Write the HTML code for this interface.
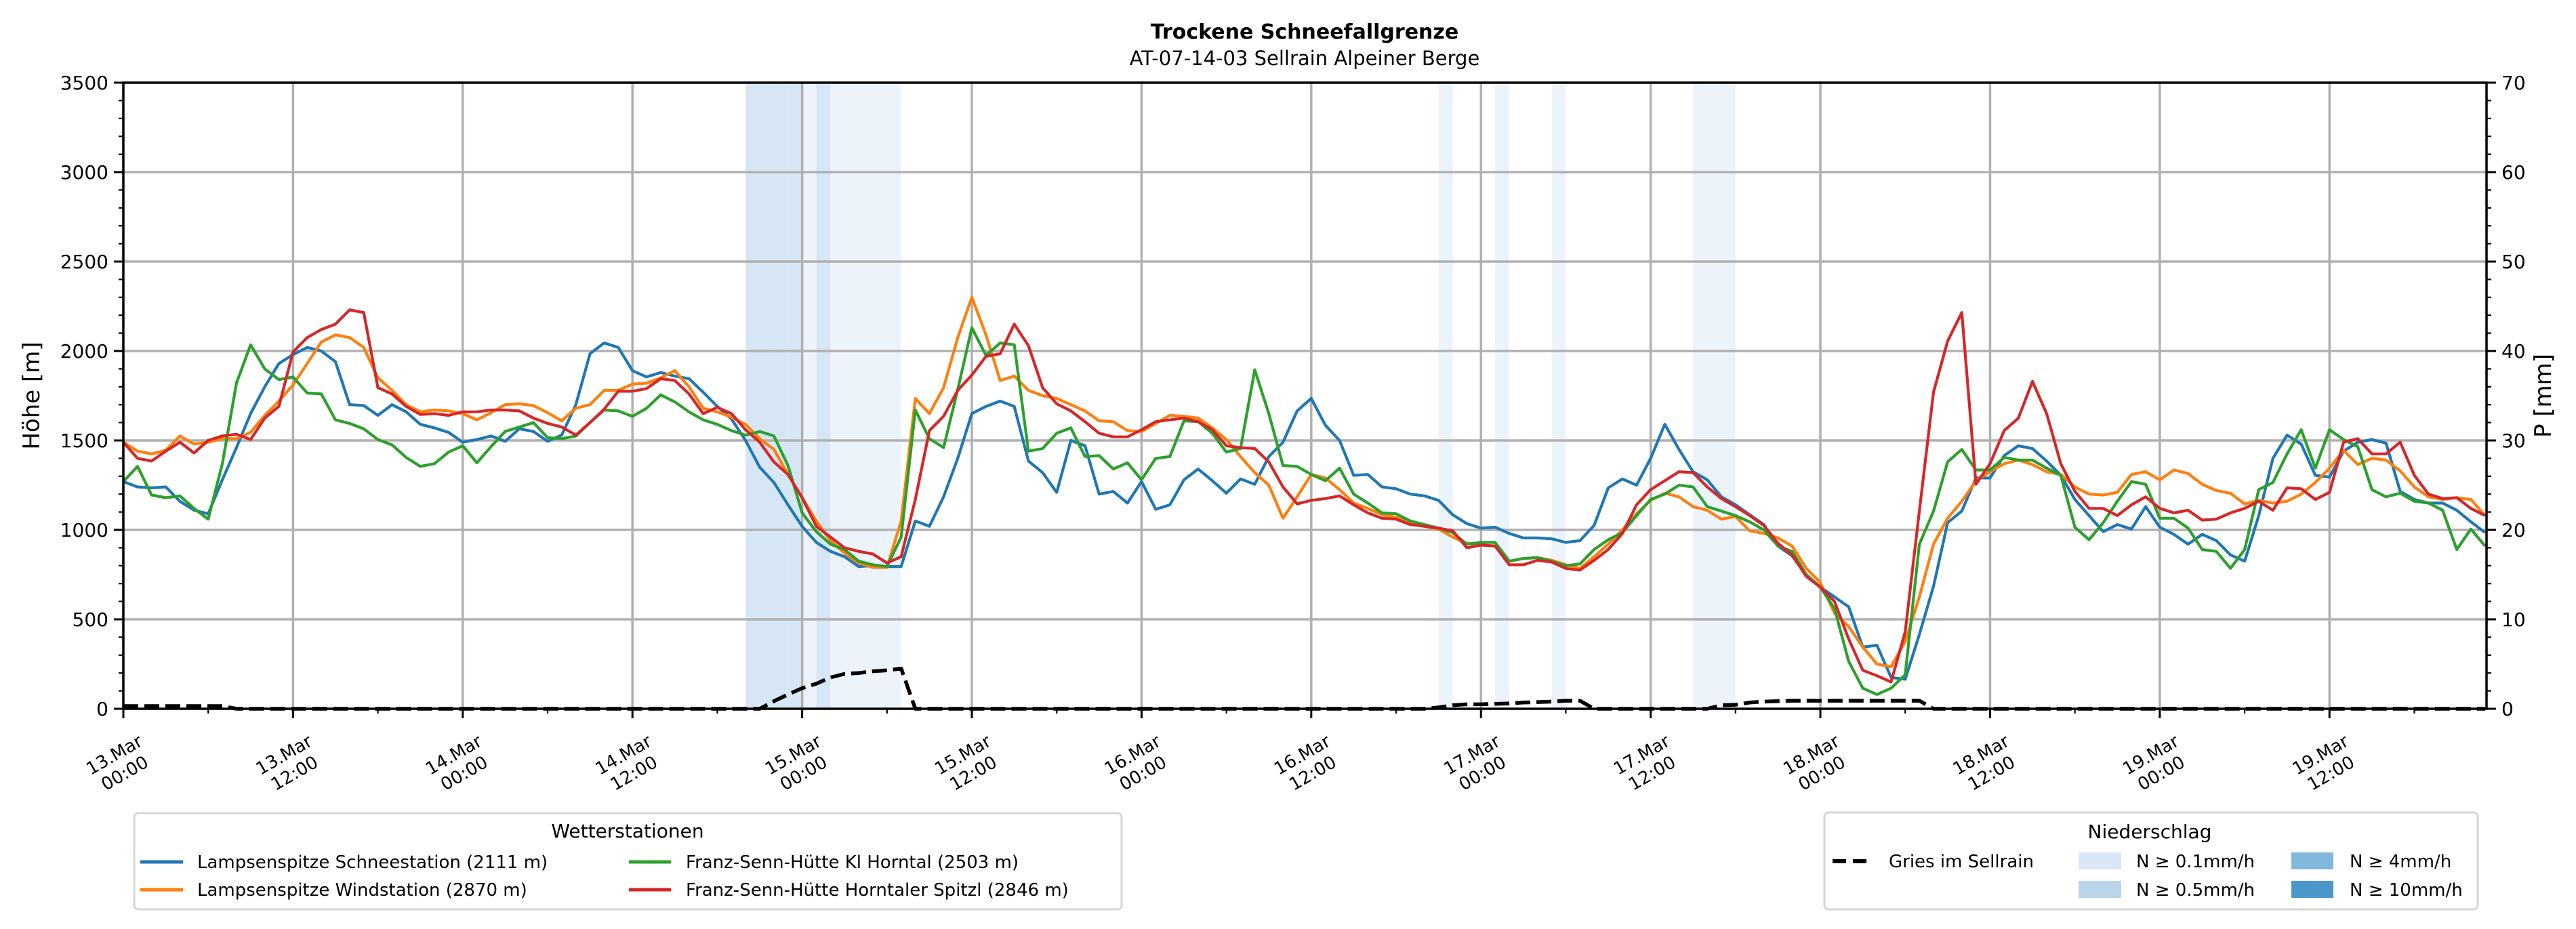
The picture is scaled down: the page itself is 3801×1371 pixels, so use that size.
<!DOCTYPE html>
<html><head><meta charset="utf-8"><style>
html,body{margin:0;padding:0;background:#fff;}
svg{display:block;font-family:"DejaVu Sans","Liberation Sans",sans-serif;}
</style></head><body>
<svg id="chart" xmlns="http://www.w3.org/2000/svg" width="3801" height="1371" viewBox="0 0 3801 1371">
<rect width="3801" height="1371" fill="#fff"/>
<text x="1925" y="57" text-anchor="middle" font-size="30" font-weight="bold">Trockene Schneefallgrenze</text>
<text x="1925" y="96" text-anchor="middle" font-size="29">AT-07-14-03 Sellrain Alpeiner Berge</text>
<g id="bands"></g>
<g id="grid"></g>
<g id="series"></g>
<g id="axes"></g>
<text transform="translate(58,584) rotate(-90)" text-anchor="middle" font-size="34">Höhe [m]</text>
<text transform="translate(3764,584) rotate(-90)" text-anchor="middle" font-size="34">P [mm]</text>

<g>
<rect x="198" y="1200" width="1457" height="142" rx="6" fill="#fff" stroke="#d6d6d6" stroke-width="3"/>
<text x="926" y="1236" text-anchor="middle" font-size="28">Wetterstationen</text>
<line x1="207" y1="1272" x2="270" y2="1272" stroke="#1f77b4" stroke-width="5"/>
<text x="291" y="1281" font-size="26">Lampsenspitze Schneestation (2111 m)</text>
<line x1="207" y1="1313" x2="270" y2="1313" stroke="#ff7f0e" stroke-width="5"/>
<text x="291" y="1322" font-size="26">Lampsenspitze Windstation (2870 m)</text>
<line x1="928" y1="1272" x2="990" y2="1272" stroke="#2ca02c" stroke-width="5"/>
<text x="1012" y="1281" font-size="26">Franz-Senn-Hütte Kl Horntal (2503 m)</text>
<line x1="928" y1="1313" x2="990" y2="1313" stroke="#d62728" stroke-width="5"/>
<text x="1012" y="1322" font-size="26">Franz-Senn-Hütte Horntaler Spitzl (2846 m)</text>
</g>

<g>
<rect x="2692" y="1199" width="964" height="143" rx="6" fill="#fff" stroke="#d6d6d6" stroke-width="3"/>
<text x="3172" y="1237" text-anchor="middle" font-size="28">Niederschlag</text>
<line x1="2704" y1="1271" x2="2760" y2="1271" stroke="#000" stroke-width="6" stroke-dasharray="20,10"/>
<text x="2787" y="1280" font-size="26">Gries im Sellrain</text>
<rect x="3067" y="1258" width="63" height="25" fill="#d8e7f5"/>
<text x="3152" y="1280" font-size="26">N ≥ 0.1mm/h</text>
<rect x="3067" y="1300" width="63" height="25" fill="#b9d5ec"/>
<text x="3152" y="1322" font-size="26">N ≥ 0.5mm/h</text>
<rect x="3381" y="1258" width="62" height="25" fill="#81b7da"/>
<text x="3467" y="1280" font-size="26">N ≥ 4mm/h</text>
<rect x="3381" y="1300" width="62" height="25" fill="#4a97c9"/>
<text x="3467" y="1322" font-size="26">N ≥ 10mm/h</text>
</g>
</svg>
<script>
const blue=[1270,1240,1235,1240,1160,1110,1090,1280,1460,1650,1800,1930,1980,2020,2000,1940,1700,1695,1640,1700,1660,1590,1570,1545,1490,1505,1525,1495,1565,1550,1495,1530,1700,1985,2045,2020,1890,1855,1880,1860,1845,1770,1690,1620,1500,1350,1265,1140,1020,930,880,850,795,800,795,795,1050,1020,1185,1400,1650,1690,1720,1690,1385,1320,1210,1500,1470,1200,1215,1150,1270,1115,1140,1280,1340,1275,1205,1285,1255,1410,1490,1665,1735,1585,1500,1305,1310,1240,1230,1200,1190,1165,1085,1035,1010,1015,980,955,955,950,930,940,1025,1235,1285,1250,1400,1590,1450,1325,1280,1185,1140,1085,1030,910,855,750,680,625,570,345,355,175,165,415,685,1040,1105,1290,1290,1415,1470,1455,1385,1305,1170,1080,990,1030,1005,1130,1015,975,920,975,940,860,825,1080,1400,1530,1480,1305,1295,1440,1490,1505,1485,1215,1170,1150,1150,1110,1045,985];
const orange=[1490,1440,1425,1445,1525,1480,1490,1510,1510,1545,1640,1720,1810,1930,2050,2090,2075,2020,1850,1780,1700,1660,1670,1665,1650,1615,1655,1700,1705,1695,1655,1610,1680,1700,1780,1780,1815,1820,1850,1890,1800,1680,1660,1630,1590,1510,1450,1310,1180,1050,940,870,815,790,790,1050,1735,1650,1795,2075,2300,2090,1835,1860,1780,1750,1735,1700,1665,1610,1605,1555,1550,1595,1640,1635,1625,1570,1505,1410,1320,1250,1065,1185,1310,1290,1225,1150,1120,1085,1070,1040,1020,1005,960,925,915,910,825,840,845,830,805,785,850,920,1000,1090,1165,1205,1185,1130,1110,1060,1075,995,980,955,910,785,705,535,460,345,250,235,375,625,920,1065,1160,1275,1325,1370,1390,1365,1325,1310,1240,1200,1195,1210,1310,1325,1280,1335,1315,1255,1220,1205,1145,1165,1150,1160,1200,1265,1345,1445,1365,1400,1390,1330,1240,1185,1170,1180,1170,1080];
const green=[1270,1355,1195,1180,1190,1120,1060,1370,1820,2035,1900,1840,1855,1765,1760,1615,1595,1565,1505,1475,1405,1355,1370,1435,1470,1375,1465,1550,1575,1600,1515,1510,1525,1600,1670,1665,1635,1680,1755,1715,1660,1615,1590,1555,1530,1550,1525,1360,1095,990,920,890,825,805,795,960,1670,1510,1460,1785,2130,1975,2045,2035,1440,1455,1540,1570,1410,1415,1340,1375,1280,1400,1410,1610,1605,1540,1435,1455,1895,1650,1360,1355,1310,1275,1345,1200,1150,1095,1090,1050,1030,1010,985,920,930,930,825,840,845,825,800,810,890,945,985,1080,1170,1200,1250,1240,1130,1105,1080,1045,1000,910,880,750,680,560,265,115,80,115,190,920,1105,1380,1450,1335,1335,1405,1390,1390,1345,1305,1015,945,1040,1160,1270,1255,1065,1065,1010,890,880,785,890,1225,1265,1425,1560,1345,1560,1505,1465,1225,1185,1205,1160,1150,1110,890,1005,910];
const red=[1490,1400,1385,1440,1490,1430,1500,1525,1535,1505,1625,1690,1995,2075,2120,2150,2230,2215,1795,1760,1690,1645,1650,1640,1660,1660,1670,1670,1665,1625,1595,1575,1530,1600,1675,1775,1775,1790,1845,1835,1760,1650,1685,1650,1560,1490,1380,1310,1180,1020,960,900,880,865,815,850,1170,1555,1635,1780,1865,1970,1985,2150,2030,1795,1705,1665,1605,1540,1520,1520,1560,1605,1615,1625,1605,1560,1470,1460,1455,1380,1240,1145,1165,1175,1190,1140,1095,1065,1060,1030,1020,1010,995,900,915,910,805,805,830,820,785,775,830,890,980,1140,1225,1275,1325,1320,1240,1175,1130,1080,1025,925,860,740,680,600,390,215,185,150,430,1105,1770,2055,2215,1255,1370,1555,1625,1830,1650,1370,1215,1120,1120,1080,1140,1185,1120,1095,1110,1055,1060,1095,1120,1160,1110,1235,1230,1170,1210,1490,1510,1425,1425,1490,1305,1200,1175,1180,1120,1080];
const gries=[
0.3,0.3,0.3,0.3,0.3,0.3,0.3,0.3,0,0,
0,0,0,0,0,0,0,0,0,0,
0,0,0,0,0,0,0,0,0,0,
0,0,0,0,0,0,0,0,0,0,
0,0,0,0,0,0,0.85,1.6,2.3,2.8,
3.5,3.9,4.0,4.2,4.3,4.5,0,0,0,0,
0,0,0,0,0,0,0,0,0,0,
0,0,0,0,0,0,0,0,0,0,
0,0,0,0,0,0,0,0,0,0,
0,0,0,0.15,0.4,0.5,0.5,0.55,0.6,0.7,
0.75,0.8,0.9,0.9,0,0,0,0,0,0,
0,0,0,0.4,0.45,0.7,0.8,0.85,0.9,0.9,
0.9,0.9,0.9,0.9,0.9,0.9,0.9,0.9,0,0,
0,0,0,0,0,0,0,0,0,0,
0,0,0,0,0,0,0,0,0,0,
0,0,0,0,0,0,0,0,0,0,
0,0,0,0,0,0,0,0];
const bandLightHours=[48,50,51,52,53,54,93,97,101,111,112,113];
const bandDarkHours=[44,45,46,47,49];
const yTicks=[0,500,1000,1500,2000,2500,3000,3500];
const y2Ticks=[0,10,20,30,40,50,60,70];
const xTickDays=["13.Mar","13.Mar","14.Mar","14.Mar","15.Mar","15.Mar","16.Mar","16.Mar","17.Mar","17.Mar","18.Mar","18.Mar","19.Mar","19.Mar"];
const xTickTimes=["00:00","12:00","00:00","12:00","00:00","12:00","00:00","12:00","00:00","12:00","00:00","12:00","00:00","12:00"];

const NS="http://www.w3.org/2000/svg";
const L=182,R=3669,T=122,B=1046,HOUR=20.867;
const xS=h=>L+h*HOUR;
const yS=v=>B-v/3500*(B-T);
const y2S=v=>B-v/70*(B-T);
function mk(tag,attrs,parent){const e=document.createElementNS(NS,tag);for(const k in attrs)e.setAttribute(k,attrs[k]);parent.appendChild(e);return e;}
const gB=document.getElementById('bands'),gG=document.getElementById('grid'),gS=document.getElementById('series'),gA=document.getElementById('axes');

bandDarkHours.forEach(h=>{const r=mk('rect',{x:xS(h),y:T,width:HOUR,height:B-T,fill:'#d6e6f4'},gB);

});
bandLightHours.forEach(h=>{const r=mk('rect',{x:xS(h),y:T,width:HOUR,height:B-T,fill:'#edf3fb'},gB);

});

yTicks.forEach(v=>{if(v>0&&v<3500){const l=mk('line',{x1:L,x2:R,y1:yS(v),y2:yS(v),stroke:'#b0b0b0','stroke-width':3.5},gG);

}});
xTickDays.forEach((d,i)=>{if(i>0){const l=mk('line',{x1:xS(i*12),x2:xS(i*12),y1:T,y2:B,stroke:'#b0b0b0','stroke-width':3.5},gG);

}});

function line(data,sc,color,name,extra){const pts=data.map((v,i)=>xS(i).toFixed(1)+','+sc(v).toFixed(1)).join(' ');
const p=mk('polyline',Object.assign({points:pts,fill:'none',stroke:color,'stroke-width':4.2,'stroke-linejoin':'round'},extra||{}),gS);

}
line(gries,y2S,'#000','gries-precip-line',{'stroke-width':5.5,'stroke-dasharray':'22,9'});
line(blue,yS,'#1f77b4','lampsenspitze-schneestation-line');
line(orange,yS,'#ff7f0e','lampsenspitze-windstation-line');
line(green,yS,'#2ca02c','kl-horntal-line');
line(red,yS,'#d62728','horntaler-spitzl-line');

mk('rect',{x:L,y:T,width:R-L,height:B-T,fill:'none',stroke:'#000','stroke-width':3.5},gA);
for(let v=0;v<=3500;v+=100){const major=v%500===0;mk('line',{x1:L,x2:L-(major?14:7),y1:yS(v),y2:yS(v),stroke:'#000','stroke-width':major?3:2.2},gA);}
for(let v=0;v<=70;v+=2){const major=v%10===0;mk('line',{x1:R,x2:R+(major?14:7),y1:y2S(v),y2:y2S(v),stroke:'#000','stroke-width':major?3:2.2},gA);}
for(let h=0;h*HOUR<=R-L+1;h+=6){const major=h%12===0;mk('line',{x1:xS(h),x2:xS(h),y1:B,y2:B+(major?14:7),stroke:'#000','stroke-width':major?3:2.2},gA);}
yTicks.forEach(v=>{const t=mk('text',{x:L-22,y:yS(v)+10,'text-anchor':'end','font-size':28},gA);t.textContent=v;

});
y2Ticks.forEach(v=>{const t=mk('text',{x:R+22,y:y2S(v)+10,'font-size':28},gA);t.textContent=v;

});
xTickDays.forEach((d,i)=>{const g=mk('g',{transform:'translate('+(xS(i*12)-6)+',1127) rotate(-30)'},gA);


const t1=mk('text',{x:0,y:-6,'text-anchor':'middle','font-size':26},g);t1.textContent=d;
const t2=mk('text',{x:0,y:25,'text-anchor':'middle','font-size':26},g);t2.textContent=xTickTimes[i];});
</script>
</body></html>
